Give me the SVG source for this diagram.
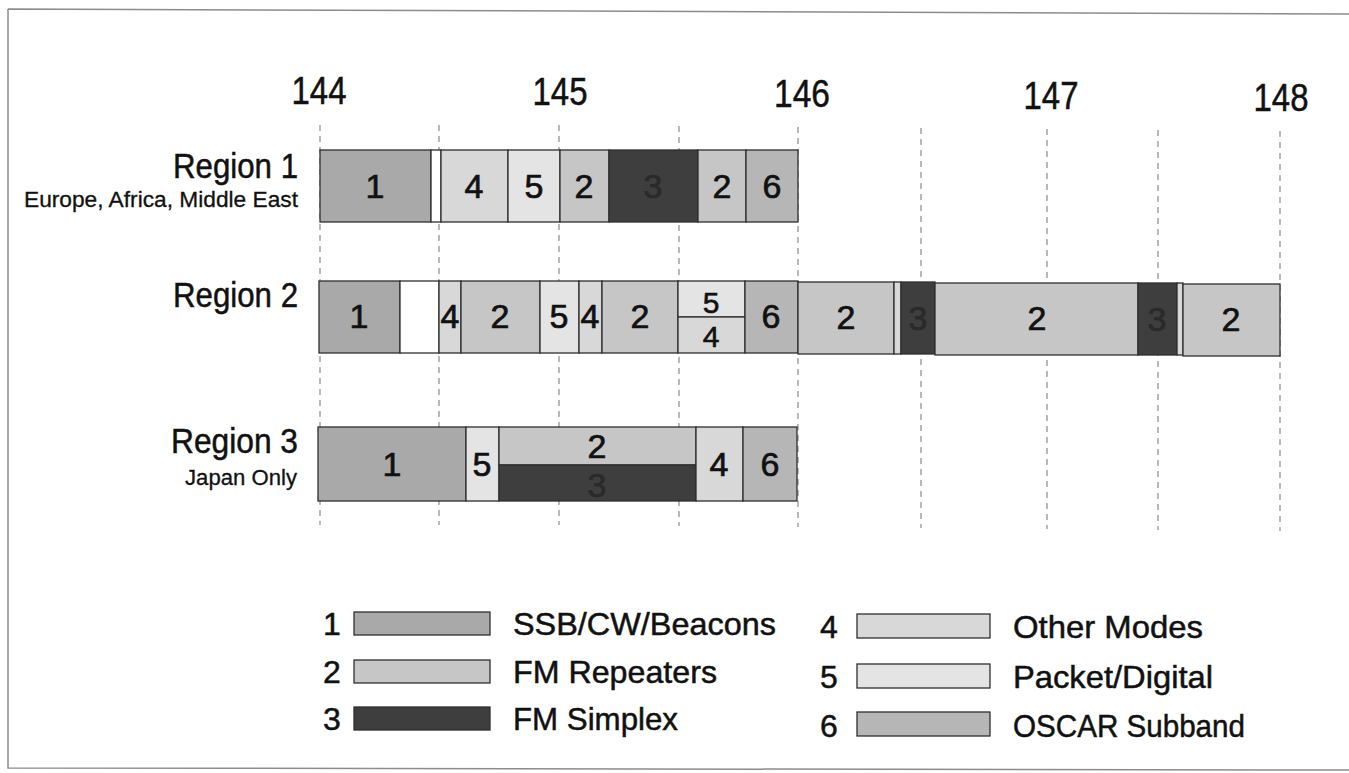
<svg xmlns="http://www.w3.org/2000/svg" width="1349" height="773" viewBox="0 0 1349 773">
<style>
  text { font-family: "Liberation Sans", Arial, Helvetica, sans-serif; fill: #111; stroke: #111; stroke-width: 0.5; }
  .axis { font-size: 38px; text-anchor: middle; }
  .rname { font-size: 35px; text-anchor: end; }
  .rsub { font-size: 22px; text-anchor: end; stroke-width: 0.3; }
  .num { font-size: 34px; text-anchor: middle; stroke-width: 0.7; }
  .snum { font-size: 30px; text-anchor: middle; stroke-width: 0.6; }
  .dnum { fill: #2a2a2a; stroke: #2a2a2a; }
  .lnum { font-size: 32px; text-anchor: middle; }
  .ltxt { font-size: 32px; }
  .grid { stroke: #8a8a8a; stroke-width: 1.2; stroke-dasharray: 6 5; fill: none; }
  .frame { stroke: #8c8c8c; stroke-width: 1.5; fill: none; }
  rect { stroke: #2e2e2e; stroke-width: 1.3; }
  .c1 { fill: #a9a9a9; }
  .c2 { fill: #c6c6c6; }
  .c3 { fill: #3e3e3e; }
  .c4 { fill: #d8d8d8; }
  .c5 { fill: #e4e4e4; }
  .c6 { fill: #b6b6b6; }
  .cw { fill: #ffffff; }
</style>

<g id="frame">
  <path class="frame" d="M8,9 L1349,14 M8,9 L8,768 L1349,770"/>
</g>

<g id="axis">
  <text class="axis" x="319" y="104" textLength="55" lengthAdjust="spacingAndGlyphs">144</text>
  <text class="axis" x="560" y="105" textLength="55" lengthAdjust="spacingAndGlyphs">145</text>
  <text class="axis" x="802" y="107" textLength="56" lengthAdjust="spacingAndGlyphs">146</text>
  <text class="axis" x="1051" y="109" textLength="55" lengthAdjust="spacingAndGlyphs">147</text>
  <text class="axis" x="1281" y="111" textLength="55" lengthAdjust="spacingAndGlyphs">148</text>
</g>

<g id="gridlines">
  <line class="grid" x1="320" y1="125" x2="320" y2="525"/>
  <line class="grid" x1="439" y1="125" x2="439" y2="525"/>
  <line class="grid" x1="559" y1="125" x2="559" y2="525"/>
  <line class="grid" x1="679" y1="126" x2="679" y2="526"/>
  <line class="grid" x1="798" y1="127" x2="798" y2="527"/>
  <line class="grid" x1="921" y1="128" x2="921" y2="528"/>
  <line class="grid" x1="1047" y1="129" x2="1047" y2="529"/>
  <line class="grid" x1="1158" y1="130" x2="1158" y2="530"/>
  <line class="grid" x1="1280" y1="131" x2="1280" y2="531"/>
</g>

<g id="region1">
  <text class="rname" x="298" y="178" textLength="125" lengthAdjust="spacingAndGlyphs">Region 1</text>
  <text class="rsub" x="298" y="207" textLength="274" lengthAdjust="spacingAndGlyphs">Europe, Africa, Middle East</text>
  <rect class="c1" x="320" y="150" width="111" height="72"/>
  <rect class="cw" x="431" y="150" width="10" height="72"/>
  <rect class="c4" x="441" y="150" width="67" height="72"/>
  <rect class="c5" x="508" y="150" width="52" height="72"/>
  <rect class="c2" x="560" y="150" width="49" height="72"/>
  <rect class="c3" x="609" y="150" width="89" height="72"/>
  <rect class="c2" x="698" y="150" width="48" height="72"/>
  <rect class="c6" x="746" y="150" width="52" height="72"/>
  <text class="num" x="375" y="198">1</text>
  <text class="num" x="474" y="198">4</text>
  <text class="num" x="534" y="198">5</text>
  <text class="num" x="584" y="198">2</text>
  <text class="num dnum" x="653" y="198">3</text>
  <text class="num" x="722" y="198">2</text>
  <text class="num" x="772" y="198">6</text>
</g>

<g id="region2">
  <text class="rname" x="298" y="307" textLength="125" lengthAdjust="spacingAndGlyphs">Region 2</text>
  <rect class="c1" x="319" y="281" width="81" height="72"/>
  <rect class="cw" x="400" y="281" width="39" height="72"/>
  <rect class="c4" x="439" y="281" width="22" height="72"/>
  <rect class="c2" x="461" y="281" width="79" height="72"/>
  <rect class="c5" x="540" y="281" width="39" height="72"/>
  <rect class="c4" x="579" y="281" width="23" height="72"/>
  <rect class="c2" x="602" y="281" width="76" height="72"/>
  <rect class="c5" x="678" y="281" width="67" height="36"/>
  <rect class="c4" x="678" y="317" width="67" height="36"/>
  <rect class="c6" x="745" y="281" width="53" height="72"/>
  <rect class="c2" x="798" y="282" width="96" height="72"/>
  <rect class="c4" x="894" y="282" width="7" height="72"/>
  <rect class="c3" x="901" y="282" width="34" height="72"/>
  <rect class="c2" x="935" y="283" width="203" height="72"/>
  <rect class="c3" x="1138" y="283" width="39" height="72"/>
  <rect class="c4" x="1177" y="283" width="6" height="72"/>
  <rect class="c2" x="1183" y="284" width="97" height="72"/>
  <text class="num" x="359" y="328">1</text>
  <text class="num" x="450" y="328">4</text>
  <text class="num" x="500" y="328">2</text>
  <text class="num" x="559" y="328">5</text>
  <text class="num" x="590" y="328">4</text>
  <text class="num" x="640" y="328">2</text>
  <text class="snum" x="711" y="313">5</text>
  <text class="snum" x="711" y="347">4</text>
  <text class="num" x="771" y="328">6</text>
  <text class="num" x="846" y="329">2</text>
  <text class="num dnum" x="918" y="330">3</text>
  <text class="num" x="1037" y="330">2</text>
  <text class="num dnum" x="1157" y="331">3</text>
  <text class="num" x="1231" y="331">2</text>
</g>

<g id="region3">
  <text class="rname" x="298" y="453" textLength="127" lengthAdjust="spacingAndGlyphs">Region 3</text>
  <text class="rsub" x="297" y="485" textLength="112" lengthAdjust="spacingAndGlyphs">Japan Only</text>
  <rect class="c1" x="318" y="427" width="148" height="74"/>
  <rect class="c5" x="466" y="427" width="33" height="74"/>
  <rect class="c2" x="499" y="427" width="197" height="38"/>
  <rect class="c3" x="499" y="465" width="197" height="36"/>
  <rect class="c4" x="696" y="427" width="47" height="74"/>
  <rect class="c6" x="743" y="427" width="54" height="74"/>
  <text class="num" x="392" y="476">1</text>
  <text class="num" x="482" y="476">5</text>
  <text class="num" x="597" y="458">2</text>
  <text class="num dnum" x="597" y="497">3</text>
  <text class="num" x="719" y="476">4</text>
  <text class="num" x="770" y="476">6</text>
</g>

<g id="legend-1">
  <text class="lnum" x="332" y="635">1</text>
  <rect class="c1" x="354" y="612" width="136" height="23"/>
  <text class="ltxt" x="513" y="635" textLength="263" lengthAdjust="spacingAndGlyphs">SSB/CW/Beacons</text>
</g>
<g id="legend-2">
  <text class="lnum" x="332" y="683">2</text>
  <rect class="c2" x="354" y="660" width="136" height="23"/>
  <text class="ltxt" x="513" y="683" textLength="204" lengthAdjust="spacingAndGlyphs">FM Repeaters</text>
</g>
<g id="legend-3">
  <text class="lnum" x="332" y="730">3</text>
  <rect class="c3" x="354" y="707" width="136" height="23"/>
  <text class="ltxt" x="513" y="730" textLength="165" lengthAdjust="spacingAndGlyphs">FM Simplex</text>
</g>
<g id="legend-4">
  <text class="lnum" x="829" y="638">4</text>
  <rect class="c4" x="857" y="614" width="133" height="24"/>
  <text class="ltxt" x="1013" y="638" textLength="190" lengthAdjust="spacingAndGlyphs">Other Modes</text>
</g>
<g id="legend-5">
  <text class="lnum" x="829" y="688">5</text>
  <rect class="c5" x="857" y="664" width="133" height="24"/>
  <text class="ltxt" x="1013" y="688" textLength="200" lengthAdjust="spacingAndGlyphs">Packet/Digital</text>
</g>
<g id="legend-6">
  <text class="lnum" x="829" y="737">6</text>
  <rect class="c6" x="857" y="712" width="133" height="24"/>
  <text class="ltxt" x="1013" y="737" textLength="232" lengthAdjust="spacingAndGlyphs">OSCAR Subband</text>
</g>
</svg>
